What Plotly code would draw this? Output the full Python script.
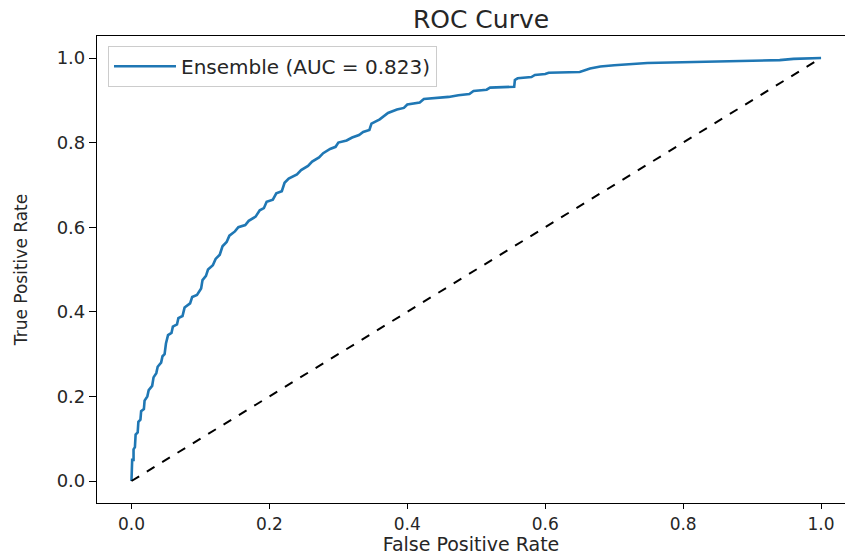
import plotly.graph_objects as go

# ROC curve points
fpr = [0.0, 0.0, 0.001, 0.001, 0.003, 0.003, 0.005, 0.006, 0.009, 0.010,
       0.013, 0.014, 0.018, 0.019, 0.023, 0.025, 0.030, 0.032, 0.036, 0.038,
       0.043, 0.045, 0.048, 0.050, 0.053, 0.058, 0.060, 0.066, 0.068, 0.074,
       0.077, 0.085, 0.088, 0.095, 0.101, 0.103, 0.108, 0.111, 0.118, 0.122,
       0.128, 0.132, 0.138, 0.142, 0.150, 0.155, 0.165, 0.170, 0.180, 0.186,
       0.192, 0.196, 0.205, 0.210, 0.218, 0.222, 0.228, 0.240, 0.246, 0.256,
       0.262, 0.272, 0.278, 0.288, 0.296, 0.300, 0.312, 0.320, 0.330, 0.336,
       0.345, 0.348, 0.360, 0.365, 0.372, 0.385, 0.395, 0.400, 0.418, 0.424,
       0.445, 0.460, 0.474, 0.490, 0.496, 0.515, 0.520, 0.555, 0.556, 0.560,
       0.580, 0.585, 0.600, 0.605, 0.650, 0.665, 0.680, 0.700, 0.748, 0.800,
       0.880, 0.940, 0.960, 1.0]
tpr = [0.0, 0.02, 0.02, 0.05, 0.05, 0.075, 0.08, 0.11, 0.115, 0.14,
       0.145, 0.165, 0.17, 0.19, 0.20, 0.215, 0.225, 0.245, 0.255, 0.27,
       0.28, 0.295, 0.30, 0.325, 0.345, 0.35, 0.365, 0.37, 0.385, 0.39,
       0.41, 0.42, 0.435, 0.44, 0.455, 0.475, 0.485, 0.50, 0.51, 0.525,
       0.535, 0.555, 0.565, 0.58, 0.59, 0.60, 0.605, 0.615, 0.625, 0.64,
       0.645, 0.66, 0.665, 0.68, 0.685, 0.705, 0.715, 0.725, 0.735, 0.745,
       0.755, 0.765, 0.775, 0.785, 0.79, 0.80, 0.805, 0.812, 0.818, 0.825,
       0.83, 0.845, 0.855, 0.862, 0.87, 0.878, 0.882, 0.89, 0.895, 0.903,
       0.905, 0.908, 0.912, 0.915, 0.922, 0.925, 0.93, 0.932, 0.948, 0.952,
       0.955, 0.96, 0.962, 0.965, 0.967, 0.975, 0.980, 0.983, 0.988, 0.990,
       0.992, 0.995, 0.998, 1.0]
chance_x = [0.0, 1.0]
chance_y = [0.0, 1.0]
auc_label = "Ensemble (AUC = 0.823)"
tick_vals = [0.0, 0.2, 0.4, 0.6, 0.8, 1.0]
tick_text = ["0.0", "0.2", "0.4", "0.6", "0.8", "1.0"]

FONT = "DejaVu Sans"
TXT = "#262626"

fig = go.Figure()
fig.add_trace(go.Scatter(x=fpr, y=tpr, mode="lines", name=auc_label,
                         line=dict(color="#1f77b4", width=2.6)))
fig.add_trace(go.Scatter(x=chance_x, y=chance_y, mode="lines", showlegend=False,
                         line=dict(color="black", width=2, dash="dash")))

fig.update_layout(
    width=845, height=556,
    margin=dict(l=97, r=0, t=36, b=53, autoexpand=False),
    paper_bgcolor="white", plot_bgcolor="white",
    font=dict(family=FONT, color=TXT),
    title=dict(text="ROC Curve", x=481 / 845, xref="container", xanchor="center",
               y=1 - 19 / 556, yref="container", yanchor="middle",
               font=dict(size=25, family=FONT, color=TXT)),
    legend=dict(x=0.0147, y=0.979, xanchor="left", yanchor="top",
                bgcolor="rgba(255,255,255,0.8)", bordercolor="#cccccc", borderwidth=1,
                itemwidth=62,
                font=dict(size=20, family=FONT, color=TXT)),
    showlegend=True,
)
fig.update_xaxes(range=[-0.05, 1.0347], tickvals=tick_vals, ticktext=tick_text,
                 showgrid=False, zeroline=False, showline=True, linecolor="black",
                 linewidth=1.2, mirror=True, ticks="outside", ticklen=5, tickwidth=1.2,
                 tickcolor="black", tickfont=dict(size=17, family=FONT, color=TXT),
                 title=dict(text="False Positive Rate", standoff=2,
                            font=dict(size=19, family=FONT, color=TXT)),
                 automargin=False)
fig.update_yaxes(range=[-0.052, 1.052], tickvals=tick_vals, ticktext=tick_text,
                 showgrid=False, zeroline=False, showline=True, linecolor="black",
                 linewidth=1.2, mirror=False, ticks="outside", ticklen=7, tickwidth=1.2,
                 tickcolor="black", tickfont=dict(size=18, family=FONT, color=TXT),
                 title=dict(text="True Positive Rate", standoff=24,
                            font=dict(size=17, family=FONT, color=TXT)),
                 automargin=False)

fig.write_html("out.html")
